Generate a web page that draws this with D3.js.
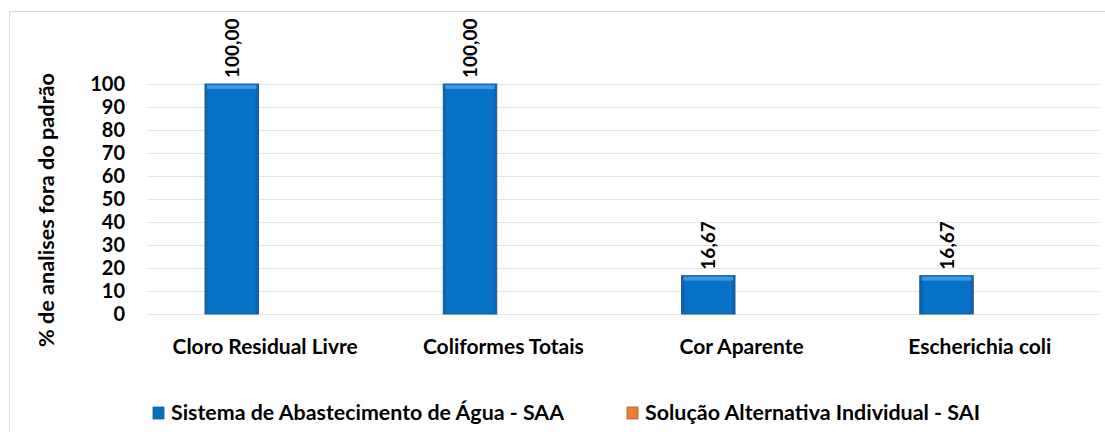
<!DOCTYPE html>
<html>
<head>
<meta charset="utf-8">
<script src="https://cdn.jsdelivr.net/npm/d3@7"></script>
<style>
  body { margin: 0; background: #fff; }
  svg text { font-family: Lato, "Open Sans", sans-serif; font-weight: bold; fill: #000; }
</style>
</head>
<body>
<svg id="chart" width="1105" height="432"></svg>
<script>
// data
const categories = ['Cloro Residual Livre', 'Coliformes Totais', 'Cor Aparente', 'Escherichia coli']
const series = ['Sistema de Abastecimento de Água - SAA', 'Solução Alternativa Individual - SAI']
const saaValues = [100, 100, 16.67, 16.67]
const saiValues = [0, 0, 0, 0]
const yTicks = [0, 10, 20, 30, 40, 50, 60, 70, 80, 90, 100]
const yTitle = '% de analises fora do padrão'

const colors = ['#0070c0', '#ed7d31']
const margin = {left: 146, right: 6, top: 84, bottom: 118}
const width = 1105, height = 432

const svg = d3.select('#chart')

// outer chart border (only top and left visible in the crop)
svg.append('path')
  .attr('d', `M9.5,${height} V11.5 H${width}`)
  .attr('fill', 'none')
  .attr('stroke', '#d9d9d9')

const defs = svg.append('defs')
const grad = defs.append('linearGradient').attr('id', 'barGrad')
  .attr('x1', 0).attr('x2', 1).attr('y1', 0).attr('y2', 0)
grad.append('stop').attr('offset', '0%').attr('stop-color', '#0a5ea8')
grad.append('stop').attr('offset', '8%').attr('stop-color', '#0872c8')
grad.append('stop').attr('offset', '92%').attr('stop-color', '#0872c8')
grad.append('stop').attr('offset', '100%').attr('stop-color', '#0a5ea8')

const x = d3.scaleBand()
  .domain(categories)
  .range([margin.left, width - margin.right])

const xSub = d3.scaleBand()
  .domain(series)
  .range([59, 59 + 107])

const y = d3.scaleLinear()
  .domain([0, 100])
  .range([height - margin.bottom, margin.top])

// gridlines
svg.append('g')
  .selectAll('line')
  .data(yTicks)
  .join('line')
  .attr('x1', margin.left + 1)
  .attr('x2', width - margin.right)
  .attr('y1', d => Math.round(y(d)) + 0.5)
  .attr('y2', d => Math.round(y(d)) + 0.5)
  .attr('stroke', '#e3e3e3')

// y axis
const yAxis = svg.append('g')
  .attr('transform', `translate(${margin.left - 21},0)`)
  .call(d3.axisLeft(y).tickValues(yTicks).tickSize(0).tickPadding(0))
yAxis.select('.domain').remove()
yAxis.selectAll('text')
  .attr('font-size', 20)
  .attr('font-family', 'Lato, sans-serif')
  .attr('font-weight', 'bold')
  .attr('fill', '#000')

svg.append('text')
  .attr('transform', `translate(54,${(73 + 347) / 2}) rotate(-90)`)
  .attr('text-anchor', 'middle')
  .attr('font-size', 20)
  .attr('textLength', 274)
  .attr('lengthAdjust', 'spacingAndGlyphs')
  .text(yTitle)

// x labels
svg.append('g')
  .selectAll('text')
  .data(categories)
  .join('text')
  .attr('x', d => x(d) + x.bandwidth() / 2)
  .attr('y', 354)
  .attr('text-anchor', 'middle')
  .attr('font-size', 21)
  .text(d => d)

// bars (SAA); SAI are all zero so they draw nothing visible
const rows = categories.map((c, i) => ({cat: c, values: [saaValues[i], saiValues[i]]}))

const groups = svg.append('g')
  .selectAll('g')
  .data(rows)
  .join('g')
  .attr('transform', d => `translate(${x(d.cat)},0)`)

const barData = d => d.values.map((v, j) => ({s: series[j], v: v, j: j})).filter(d => d.v > 0)

groups.selectAll('rect.bar')
  .data(barData)
  .join('rect')
  .attr('class', 'bar')
  .attr('x', d => xSub(d.s))
  .attr('width', xSub.bandwidth())
  .attr('y', d => y(d.v))
  .attr('height', d => y(0) - y(d.v))
  .attr('fill', d => d.j === 0 ? 'url(#barGrad)' : colors[1])
  .attr('stroke', '#245a8c')
  .attr('stroke-width', 1)

// top bevel highlight
groups.selectAll('rect.hl')
  .data(barData)
  .join('rect')
  .attr('class', 'hl')
  .attr('x', d => xSub(d.s) + 2)
  .attr('width', xSub.bandwidth() - 4)
  .attr('y', d => y(d.v) + 1)
  .attr('height', 4)
  .attr('fill', '#3d97e4')

// value labels
groups.selectAll('text.val')
  .data(barData)
  .join('text')
  .attr('class', 'val')
  .attr('transform', d => `translate(${xSub(d.s) + xSub.bandwidth() / 2 + 7},${y(d.v) - 6}) rotate(-90)`)
  .attr('font-size', 19)
  .text(d => d.v.toFixed(2).replace('.', ','))

// legend
const legendX = [153, 627]
const legend = svg.append('g')
  .selectAll('g')
  .data(series)
  .join('g')
  .attr('transform', (d, i) => `translate(${legendX[i]},407)`)

legend.append('rect')
  .attr('width', 11)
  .attr('height', 12)
  .attr('fill', (d, i) => colors[i])
  .attr('stroke', (d, i) => i === 0 ? '#245a8c' : '#b35a1f')
  .attr('stroke-width', 0.8)

legend.append('text')
  .attr('x', 18)
  .attr('y', 13)
  .attr('font-size', 20)
  .attr('textLength', (d, i) => [393, 335][i])
  .attr('lengthAdjust', 'spacingAndGlyphs')
  .text(d => d)
</script>
</body>
</html>
